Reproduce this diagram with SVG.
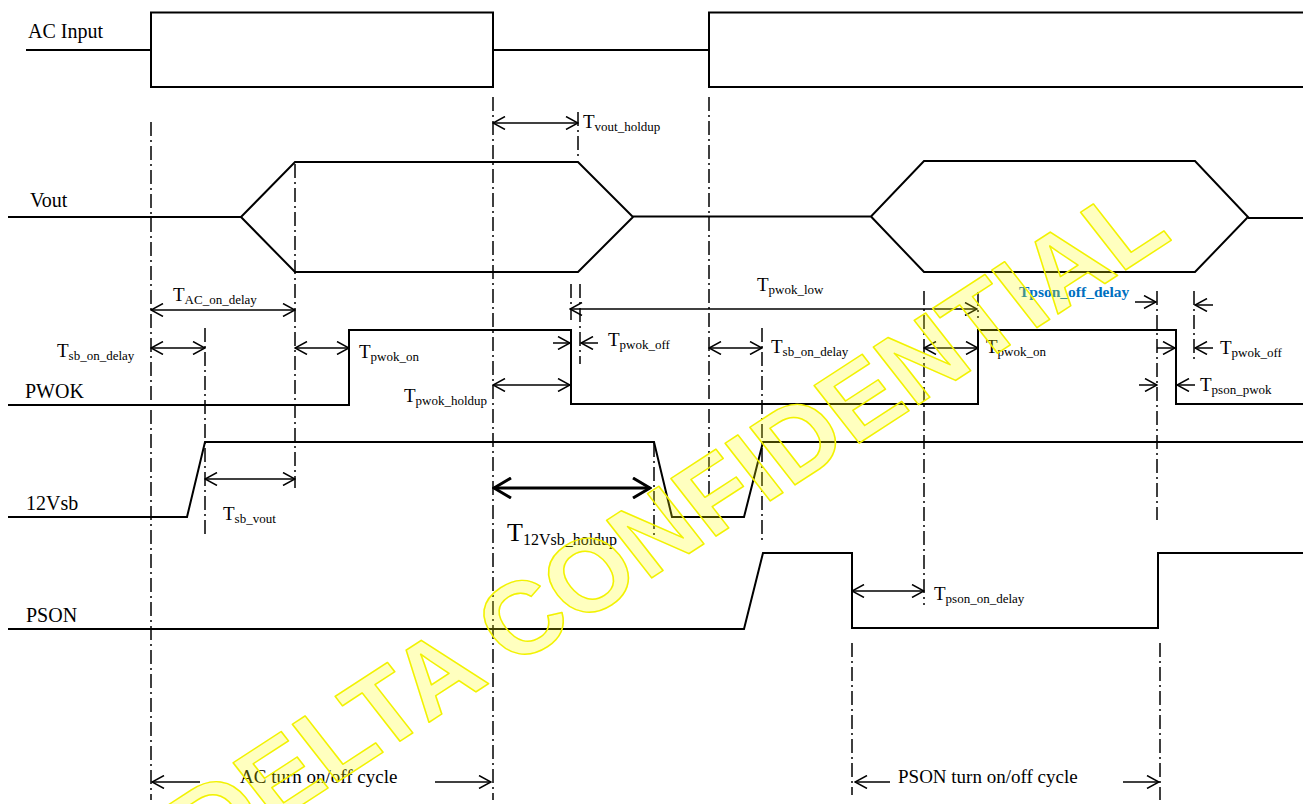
<svg xmlns="http://www.w3.org/2000/svg" width="1303" height="804" viewBox="0 0 1303 804">
<defs>
<style>
.sig{fill:none;stroke:#000;stroke-width:2;stroke-linejoin:miter}
.dd{fill:none;stroke:#000;stroke-width:1.5;stroke-dasharray:14 4 2 4}
.ar{fill:none;stroke:#000;stroke-width:1.5}
.arb{fill:none;stroke:#000;stroke-width:3}
text{font-family:"Liberation Serif","Times New Roman",serif;fill:#000}
.lbl{font-size:20px}
.T{font-size:19px}
.s{font-size:13px}
.cyc{font-size:19px}
.blue{font-size:15.5px;font-weight:bold;fill:#0070C0}
.wm{font-family:"Liberation Sans",Arial,sans-serif;font-weight:bold;font-size:106px;fill:#FFFF00;fill-opacity:0.25;stroke:#F2F200;stroke-width:1.5;stroke-linejoin:round}
</style>
<marker id="ah" viewBox="0 0 14 14" refX="13" refY="7" markerWidth="14" markerHeight="14" markerUnits="userSpaceOnUse" orient="auto-start-reverse">
<path d="M1,0.5 L13,7 L1,13.5" fill="none" stroke="#000" stroke-width="1.5"/>
</marker>
<marker id="ahb" viewBox="0 0 20 22" refX="18" refY="11" markerWidth="20" markerHeight="22" markerUnits="userSpaceOnUse" orient="auto-start-reverse">
<path d="M1,1 L18,11 L1,21" fill="none" stroke="#000" stroke-width="3"/>
</marker>
</defs>
<rect width="1303" height="804" fill="#fff"/>

<g id="signals">
<g id="ac-input">
<path class="sig" d="M26,50 H151 M151,12.5 H493 V87 H151 Z M493,50 H709 M1303,12.5 H709 V87 H1303"/>
<text class="lbl" x="28" y="38">AC Input</text>
</g>
<g id="vout">
<path class="sig" d="M8,217 H241 L295,162 H578 L633,217 L578,272 H295 L241,217 M633,216.5 H871 L924,161 H1195 L1248,217 L1195,272 H924 L871,216.5 M1248,218 H1303"/>
<text class="lbl" x="30" y="207">Vout</text>
</g>
<g id="pwok">
<path class="sig" d="M8,405 H349 V330 H571 V404 H978 V330 H1176 V404 H1303"/>
<text class="lbl" x="25" y="398">PWOK</text>
</g>
<g id="v12sb">
<path class="sig" d="M8,517 H187 L205,442 H654 L672,517 H744 L763,442 H1303"/>
<text class="lbl" x="26" y="510">12Vsb</text>
</g>
<g id="pson">
<path class="sig" d="M8,629 H744 L763,553 H852 V628 H1158 V553 H1303"/>
<text class="lbl" x="26" y="622">PSON</text>
</g>
</g>

<g id="connectors">
<g id="guides">
<path class="dd" d="M151,122 V800"/>
<path class="dd" d="M205,328 V537"/>
<path class="dd" d="M295,164 V488"/>
<path class="dd" d="M493,97 V800"/>
<path class="dd" d="M578,112 V160"/>
<path class="dd" d="M571,284 V320"/>
<path class="dd" d="M580,284 V364"/>
<path class="dd" d="M709,97 V498"/>
<path class="dd" d="M762,328 V540"/>
<path class="dd" d="M654,443 V537"/>
<path class="dd" d="M924,291 V605"/>
<path class="dd" d="M978,292 V318"/>
<path class="dd" d="M1157,291 V520"/>
<path class="dd" d="M1194,291 V362"/>
<path class="dd" d="M852,643 V795"/>
<path class="dd" d="M1160,643 V800"/>
</g>
<g id="arrows">
<path class="ar" d="M493,123 H578" marker-start="url(#ah)" marker-end="url(#ah)"/>
<path class="ar" d="M151,310 H295" marker-start="url(#ah)" marker-end="url(#ah)"/>
<path class="ar" d="M151,348 H205" marker-start="url(#ah)" marker-end="url(#ah)"/>
<path class="ar" d="M295,348 H349" marker-start="url(#ah)" marker-end="url(#ah)"/>
<path class="ar" d="M493,385 H570" marker-start="url(#ah)" marker-end="url(#ah)"/>
<path class="ar" d="M553,343 H570" marker-end="url(#ah)"/>
<path class="ar" d="M598,343 H581" marker-end="url(#ah)"/>
<path class="ar" d="M570,309 H977" marker-start="url(#ah)" marker-end="url(#ah)"/>
<path class="ar" d="M709,348 H762" marker-start="url(#ah)" marker-end="url(#ah)"/>
<path class="ar" d="M924,348 H978" marker-start="url(#ah)" marker-end="url(#ah)"/>
<path class="ar" d="M1135,302 H1156" marker-end="url(#ah)"/>
<path class="ar" d="M1213,305 H1195" marker-end="url(#ah)"/>
<path class="ar" d="M1157,348 H1175" marker-end="url(#ah)"/>
<path class="ar" d="M1213,348 H1195" marker-end="url(#ah)"/>
<path class="ar" d="M1139,385 H1157" marker-end="url(#ah)"/>
<path class="ar" d="M1195,385 H1177" marker-end="url(#ah)"/>
<path class="ar" d="M205,479 H295" marker-start="url(#ah)" marker-end="url(#ah)"/>
<path class="arb" d="M494,488 H650" marker-start="url(#ahb)" marker-end="url(#ahb)"/>
<path class="ar" d="M852,591 H924" marker-start="url(#ah)" marker-end="url(#ah)"/>
<path class="ar" d="M200,782 H152" marker-end="url(#ah)"/>
<path class="ar" d="M435,782 H491" marker-end="url(#ah)"/>
<path class="ar" d="M890,782 H855" marker-end="url(#ah)"/>
<path class="ar" d="M1123,782 H1159" marker-end="url(#ah)"/>
</g>
<g id="labels">
<text x="583" y="128"><tspan class="T">T</tspan><tspan class="s" dy="3">vout_holdup</tspan></text>
<text x="173" y="301"><tspan class="T">T</tspan><tspan class="s" dy="3">AC_on_delay</tspan></text>
<text x="57" y="357"><tspan class="T">T</tspan><tspan class="s" dy="3">sb_on_delay</tspan></text>
<text x="359" y="358"><tspan class="T">T</tspan><tspan class="s" dy="3">pwok_on</tspan></text>
<text x="404" y="402"><tspan class="T">T</tspan><tspan class="s" dy="3">pwok_holdup</tspan></text>
<text x="608" y="346"><tspan class="T">T</tspan><tspan class="s" dy="3">pwok_off</tspan></text>
<text x="757" y="291"><tspan class="T">T</tspan><tspan class="s" dy="3">pwok_low</tspan></text>
<text x="771" y="353"><tspan class="T">T</tspan><tspan class="s" dy="3">sb_on_delay</tspan></text>
<text x="986" y="353"><tspan class="T">T</tspan><tspan class="s" dy="3">pwok_on</tspan></text>
<text class="blue" x="1019" y="297">Tpson_off_delay</text>
<text x="1220" y="354"><tspan class="T">T</tspan><tspan class="s" dy="3">pwok_off</tspan></text>
<text x="1200" y="391"><tspan class="T">T</tspan><tspan class="s" dy="3">pson_pwok</tspan></text>
<text x="223" y="520"><tspan class="T">T</tspan><tspan class="s" dy="3">sb_vout</tspan></text>
<text x="507" y="541"><tspan style="font-size:26px">T</tspan><tspan style="font-size:16px" dy="4">12Vsb_holdup</tspan></text>
<text x="934" y="600"><tspan class="T">T</tspan><tspan class="s" dy="3">pson_on_delay</tspan></text>
<text class="cyc" x="240" y="783">AC turn on/off cycle</text>
<text class="cyc" x="898" y="783">PSON turn on/off cycle</text>
</g>
</g>

<g id="watermark">
<text class="wm" transform="translate(208,866) rotate(-33) skewX(5)">DELTA CONFIDENTIAL</text>
</g>
</svg>
